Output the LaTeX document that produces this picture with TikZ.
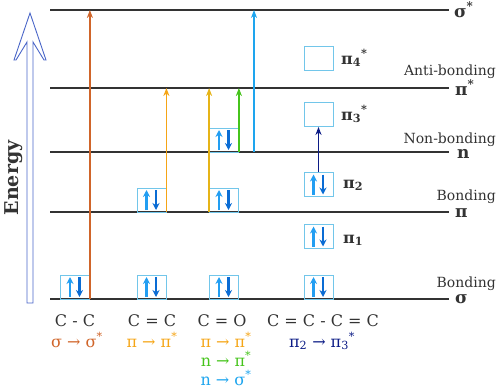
\documentclass[tikz,border=0pt]{standalone}
\usepackage{fontspec}
\setmainfont{DejaVu Serif}
\usepackage{tikz}
\usetikzlibrary{arrows.meta}

\definecolor{sigcol}{HTML}{D0652A}
\definecolor{picol}{HTML}{F5A516}
\definecolor{cocol}{HTML}{E6B418}
\definecolor{ncol}{HTML}{46C41C}
\definecolor{nscol}{HTML}{1EA5EE}
\definecolor{navcol}{HTML}{0C1C86}
\definecolor{boxcol}{HTML}{72C6EA}
\definecolor{upcol}{HTML}{229EF2}
\definecolor{dncol}{HTML}{0A6CD4}
\definecolor{encol}{HTML}{4A66C8}
\definecolor{txtcol}{HTML}{333333}

\tikzset{
  level/.style={draw=txtcol, line width=1.3pt},
  ebox/.style={draw=boxcol, line width=0.8pt, minimum width=29pt, minimum height=24pt, inner sep=0pt},
  pairbox/.style={ebox, path picture={
    \draw[upcol, line width=2.4pt, -{Stealth[length=7pt,width=7pt]}]
      ([xshift=-5pt,yshift=2pt]path picture bounding box.south) -- ([xshift=-5pt,yshift=-2pt]path picture bounding box.north);
    \draw[dncol, line width=2.4pt, -{Stealth[length=7pt,width=7pt]}]
      ([xshift=4.5pt,yshift=-2pt]path picture bounding box.north) -- ([xshift=4.5pt,yshift=2pt]path picture bounding box.south);}},
  trans/.style={line width=1.6pt, -{Stealth[length=8pt,width=6pt,inset=2.5pt]}},
  lvlname/.style={font=\bfseries\fontsize{17}{18}\selectfont, txtcol, inner sep=0pt, anchor=base west},
  kind/.style={font=\fontsize{14}{16}\selectfont, txtcol, inner sep=0pt, anchor=base east},
  orb/.style={font=\bfseries\fontsize{16}{18}\selectfont, txtcol, inner sep=0pt, anchor=base west},
  mol/.style={font=\fontsize{16}{18}\selectfont, inner sep=0pt, anchor=base}
}

\begin{document}
\begin{tikzpicture}[x=1pt,y=-1pt]
\useasboundingbox (0,0) rectangle (500,388);

\draw[encol, line width=0.9pt] (27,303) -- (27,42) -- (16,60) -- (14,60) -- (30,13) -- (46,60) -- (44,60) -- (33,42) -- (33,303) -- cycle;
\node[rotate=90, font=\bfseries\fontsize{19}{20}\selectfont, txtcol] (energy) at (14,178) {Energy};

\coordinate (lss) at (50,10);
\coordinate (lss-r) at (449,10);
\coordinate (lps) at (50,88);
\coordinate (lps-r) at (449,88);
\coordinate (ln) at (50,152);
\coordinate (ln-r) at (449,152);
\coordinate (lp) at (50,212);
\coordinate (lp-r) at (449,212);
\coordinate (ls) at (50,299);
\coordinate (ls-r) at (449,299);
\draw[level] (lss) -- (lss-r);
\draw[level] (lps) -- (lps-r);
\draw[level] (ln) -- (ln-r);
\draw[level] (lp) -- (lp-r);
\draw[level] (ls) -- (ls-r);

\node[lvlname] (tss) at (454,17) {σ\textsuperscript{*}};
\node[lvlname] (tps) at (455,95) {π\textsuperscript{*}};
\node[lvlname] (tn) at (457,158) {n};
\node[lvlname] (tp) at (455,217) {π};
\node[lvlname] (ts) at (455,303) {σ};

\node[kind] (anti) at (496,75) {Anti-bonding};
\node[kind] (nonb) at (496,143) {Non-bonding};
\node[kind] (bond1) at (496,200) {Bonding};
\node[kind] (bond2) at (496,287) {Bonding};

\node[pairbox] (bcc1) at (75,287) {};
\node[pairbox] (bce1) at (151.5,287) {};
\node[pairbox] (bce2) at (151.5,200) {};
\node[pairbox] (bco1) at (224,287) {};
\node[pairbox] (bco2) at (224,200) {};
\node[pairbox] (bco3) at (224,140) {};
\node[pairbox] (bb1) at (318.5,287) {};
\node[pairbox] (bb2) at (318.5,236.5) {};
\node[pairbox] (bb3) at (318.5,184.5) {};
\node[ebox] (bb4) at (318.5,114.5) {};
\node[ebox] (bb5) at (318.5,58.5) {};

\node[orb] (tb5) at (341,64) {π\textsubscript{4}\textsuperscript{*}};
\node[orb] (tb4) at (341,120) {π\textsubscript{3}\textsuperscript{*}};
\node[orb] (tb3) at (343,188) {π\textsubscript{2}};
\node[orb] (tb2) at (343,243) {π\textsubscript{1}};

\coordinate (nsig) at (254,152);
\draw[trans, sigcol] (bcc1.south east) -- (bcc1.south east |- lss);
\draw[trans, picol] (bce2.south east) -- (bce2.south east |- lps);
\draw[trans, cocol] (bco2.south west) -- (bco2.south west |- lps);
\draw[trans, ncol] (bco3.south east) -- (bco3.south east |- lps);
\draw[trans, nscol] (nsig) -- (nsig |- lss);
\draw[trans, navcol] (bb3.north) -- (bb4.south);

\node[mol, txtcol] (mcc) at (75,326) {C - C};
\node[mol, sigcol] (tcc) at (77,347) {σ → σ\textsuperscript{*}};
\node[mol, txtcol] (mce) at (152,326) {C = C};
\node[mol, picol] (tce) at (152,347) {π → π\textsuperscript{*}};
\node[mol, txtcol] (mco) at (222,326) {C = O};
\node[mol, picol] (tco1) at (226,347) {π → π\textsuperscript{*}};
\node[mol, ncol] (tco2) at (226,366) {n → π\textsuperscript{*}};
\node[mol, nscol] (tco3) at (226,385) {n → σ\textsuperscript{*}};
\node[mol, txtcol] (mb) at (323,326) {C = C - C = C};
\node[mol, navcol] (tb) at (322,347) {π\textsubscript{2} → π\textsubscript{3}\textsuperscript{*}};
\end{tikzpicture}
\end{document}
